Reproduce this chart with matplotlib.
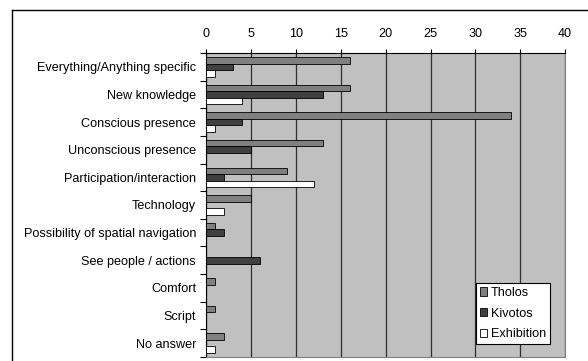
"""
Horizontal grouped bar chart: Tholos / Kivotos / Exhibition
"""

import numpy as np
import matplotlib
matplotlib.use("Agg")
import matplotlib.pyplot as plt
from matplotlib.lines import Line2D

plt.rcParams["font.family"] = ["Liberation Sans", "DejaVu Sans"]

categories = [
    "Everything/Anything specific",
    "New knowledge",
    "Conscious presence",
    "Unconscious presence",
    "Participation/interaction",
    "Technology",
    "Possibility of spatial navigation",
    "See people / actions",
    "Comfort",
    "Script",
    "No answer",
]
tholos = [16, 16, 34, 13, 9, 5, 1, 0, 1, 1, 2]
kivotos = [3, 13, 4, 5, 2, 0, 2, 6, 0, 0, 0]
exhibition = [1, 4, 1, 0, 12, 2, 0, 0, 0, 0, 1]

series = [("Tholos", tholos, "#808080"),
          ("Kivotos", kivotos, "#404040"),
          ("Exhibition", exhibition, "#ffffff")]

FS = 9.1

W, H = 588, 361
fig = plt.figure(figsize=(W / 100, H / 100), dpi=100)
fig.patch.set_facecolor("white")

# axes placed in pixel terms
x0, x1 = 206.5, 565
y_top, y_bot = 53, 357
ax = fig.add_axes([x0 / W, (H - y_bot) / H, (x1 - x0) / W, (y_bot - y_top) / H])
ax.set_facecolor("#c0c0c0")

# outer chart frame (cut off at right / bottom)
fig.add_artist(Line2D([12 / W, 12 / W], [0, 1 - 10 / H], color="black", lw=1.0,
                      transform=fig.transFigure))
fig.add_artist(Line2D([12 / W, 1], [1 - 10 / H, 1 - 10 / H], color="black", lw=1.0,
                      transform=fig.transFigure))

n = len(categories)
y = np.arange(n)
bw = 0.235
for i, (name, vals, col) in enumerate(series):
    ax.barh(y + (i - 1) * bw, vals, height=bw, color=col, edgecolor="black",
            linewidth=0.6, label=name, zorder=3)

ax.set_xlim(0, 40)
ax.set_ylim(n - 0.5, -0.5)

ax.xaxis.tick_top()
ax.set_xticks(np.arange(0, 41, 5))
ax.tick_params(axis="x", direction="out", length=3, width=0.8, pad=6.5,
               labelsize=FS, colors="black")
ax.grid(axis="x", color="#303030", lw=0.9, zorder=1)

ax.set_yticks(y)
ax.set_yticklabels(categories)
ax.set_yticks(np.arange(-0.5, n, 1), minor=True)
ax.tick_params(axis="y", which="major", length=0, pad=7.5, labelsize=FS)
ax.tick_params(axis="y", which="minor", direction="out", length=4.5, width=0.8)

for s in ["left", "top"]:
    ax.spines[s].set_color("black")
    ax.spines[s].set_linewidth(0.8)
for s in ["right", "bottom"]:
    ax.spines[s].set_color("#808080")
    ax.spines[s].set_linewidth(0.8)

leg = ax.legend(loc="lower left", bbox_to_anchor=(0.752, 0.043), borderaxespad=0,
                fontsize=FS, frameon=True, fancybox=False, handlelength=0.6,
                handleheight=0.6, handletextpad=0.25, labelspacing=0.68,
                borderpad=0.3)
leg.get_frame().set_edgecolor("black")
leg.get_frame().set_linewidth(0.8)
leg.get_frame().set_alpha(1)
leg.set_zorder(5)

fig.savefig("out.png", dpi=100)
